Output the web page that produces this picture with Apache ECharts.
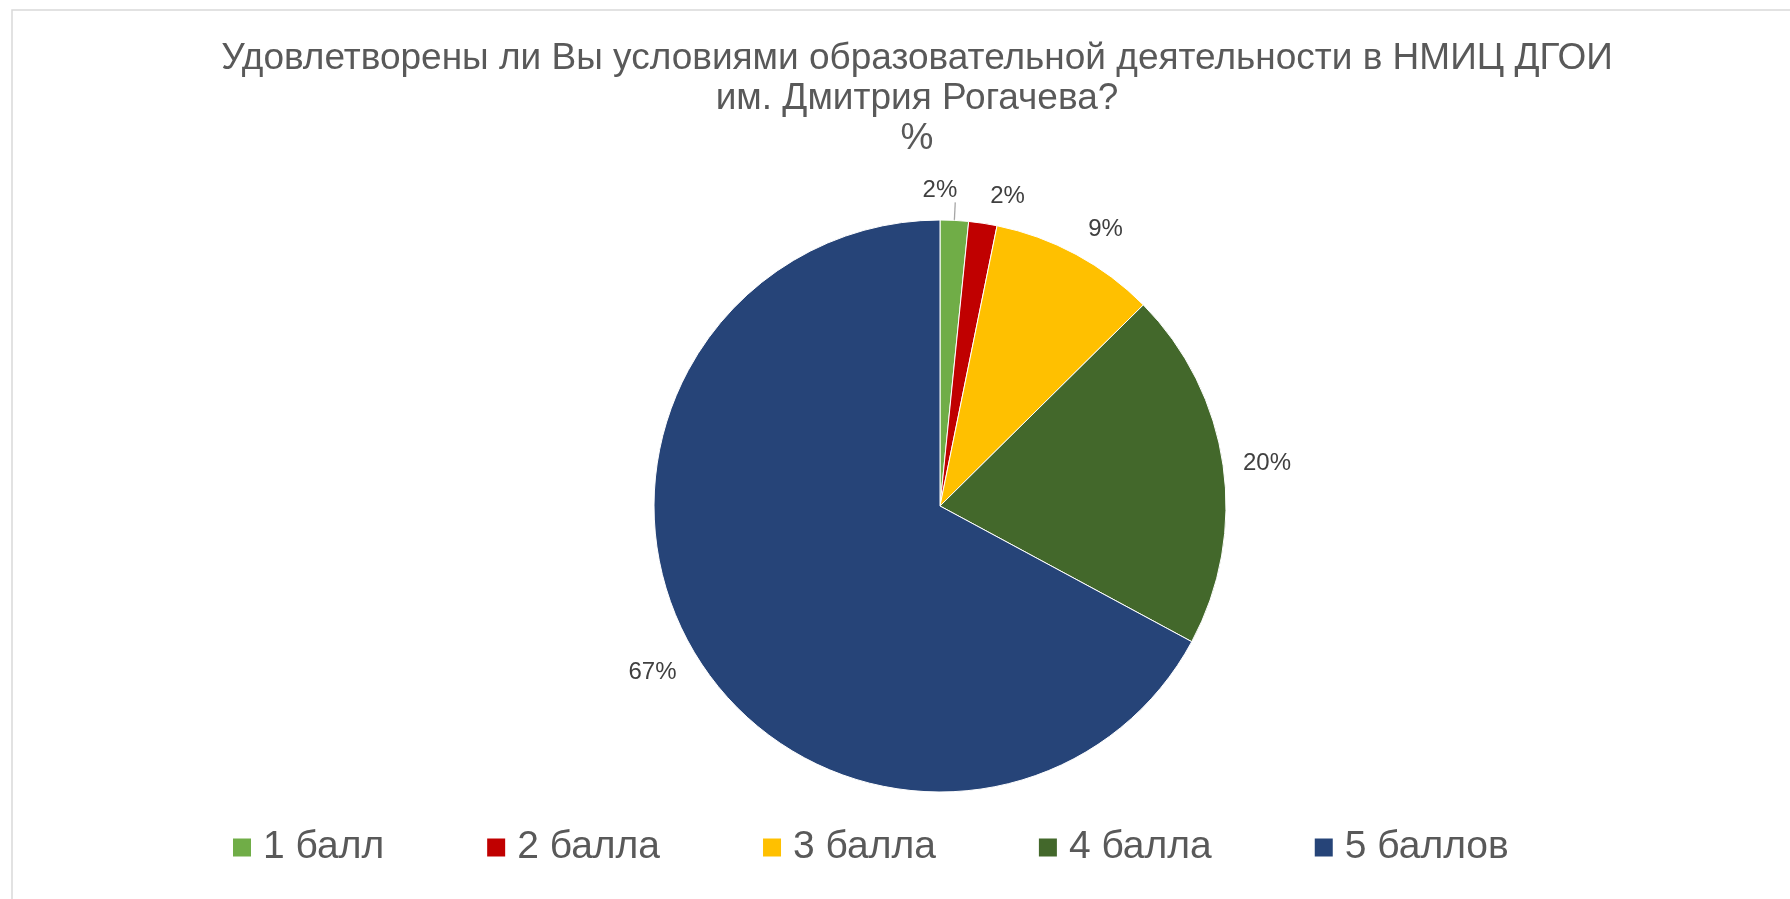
<!DOCTYPE html>
<html>
<head>
<meta charset="utf-8">
<script src="https://cdn.jsdelivr.net/npm/echarts@6/dist/echarts.min.js"></script>
<style>
  html, body { margin: 0; padding: 0; background: #fff; }
  #chart { width: 1790px; height: 899px; }
</style>
</head>
<body>
<div id="chart"></div>
<script>
const titleLines = ['Удовлетворены ли Вы условиями образовательной деятельности в НМИЦ ДГОИ', 'им. Дмитрия Рогачева?', '%'];
const categories = ['1 балл', '2 балла', '3 балла', '4 балла', '5 баллов'];
const values = [1.6, 1.6, 9.4, 20.3, 67.2];
const colors = ['#70AD47', '#C00000', '#FFC000', '#43682B', '#264478'];

const chart = echarts.init(document.getElementById('chart'), null, { renderer: 'canvas' });

const data = categories.map((name, i) => {
  const item = { name: name, value: values[i], itemStyle: { color: colors[i] } };
  if (i === 0) {
    item.labelLine = { show: true, length: 18, length2: 0, lineStyle: { color: '#a6a6a6', width: 1.3 } };
    item.label = { distanceToLabelLine: 2 };
  }
  return item;
});

chart.setOption({
  animation: false,
  backgroundColor: '#ffffff',
  graphic: [{
    type: 'rect',
    shape: { x: 12, y: 10, width: 1800, height: 1000 },
    style: { fill: 'none', stroke: '#d9d9d9', lineWidth: 1.5 },
    silent: true
  }],
  title: {
    text: titleLines.join('\n'),
    left: 912,
    top: 34,
    textAlign: 'center',
    textStyle: {
      fontFamily: 'Liberation Sans, Arial, sans-serif',
      fontSize: 37,
      fontWeight: 'normal',
      color: '#595959',
      lineHeight: 40
    }
  },
  legend: {
    data: categories,
    left: 226,
    top: 823,
    icon: 'rect',
    itemWidth: 20,
    itemHeight: 20,
    itemGap: 101,
    textStyle: {
      fontFamily: 'Liberation Sans, Arial, sans-serif',
      fontSize: 39,
      color: '#595959',
      padding: [0, 0, 0, 6]
    }
  },
  series: [{
    type: 'pie',
    center: [940, 506],
    radius: 286,
    startAngle: 90,
    clockwise: true,
    avoidLabelOverlap: false,
    itemStyle: { borderColor: '#ffffff', borderWidth: 1 },
    label: {
      show: true,
      position: 'outside',
      formatter: p => Math.round(p.value) + '%',
      fontFamily: 'Liberation Sans, Arial, sans-serif',
      fontSize: 24,
      color: '#404040'
    },
    labelLine: { show: false, length: 15, length2: 0 },
    labelLayout: function (p) {
      if (p.dataIndex === 0) return { align: 'right', verticalAlign: 'bottom' };
      if (p.dataIndex === 1 || p.dataIndex === 2) return { verticalAlign: 'bottom' };
      if (p.dataIndex === 4) return { verticalAlign: 'top' };
      return {};
    },
    emphasis: { disabled: true },
    data: data
  }]
});
</script>
</body>
</html>
